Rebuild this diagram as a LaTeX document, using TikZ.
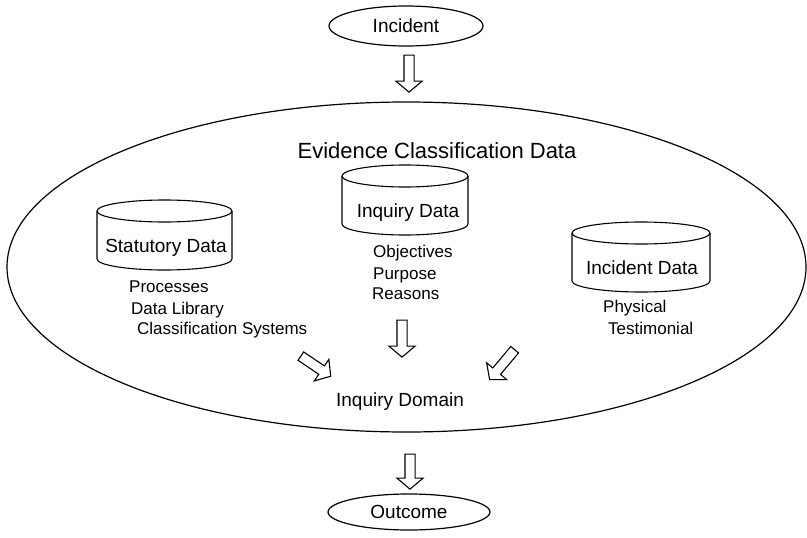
\documentclass[tikz,border=0pt]{standalone}
\usepackage{fontspec}
\setmainfont{Liberation Sans}
\usetikzlibrary{shapes.geometric,shapes.arrows}

\tikzset{
  oval/.style={draw,ellipse,line width=1.2pt,inner sep=0pt},
  store/.style={line width=1.1pt},
  flow/.style={draw,single arrow,line width=1.1pt,inner xsep=0pt,inner ysep=4.5pt,
    single arrow head extend=8pt,single arrow tip angle=100,minimum height=37pt},
  big/.style={font=\fontsize{22}{26}\selectfont},
  lbl/.style={font=\fontsize{19}{22}\selectfont,inner sep=0pt},
  item/.style={font=\fontsize{17}{20}\selectfont,inner sep=0pt,anchor=base west}
}

% drum shaped store: centre x, top y, half width, height
\newcommand{\drum}[4]{%
  \draw[store] (#1,#2+11) ellipse [x radius=#3pt, y radius=11pt];
  \draw[store] (#1-#3,#2+11) -- (#1-#3,#2+#4-11)
    arc [start angle=180, end angle=360, x radius=#3pt, y radius=11pt]
    -- (#1+#3,#2+11);
}

\begin{document}
\begin{tikzpicture}[x=1pt,y=-1pt]
  \useasboundingbox (0,0) rectangle (807,538);

  % start and end
  \node[oval,minimum width=154pt,minimum height=40pt] (incident) at (406,26) {};
  \node[lbl] at (incident.center) {Incident};
  \node[oval,minimum width=162pt,minimum height=36pt] (outcome) at (409,512) {};
  \node[lbl] at (outcome.center) {Outcome};

  % the big evidence area
  \node[oval,minimum width=799pt,minimum height=330pt] (evidence) at (406.5,267) {};
  \node[big,anchor=base] (title) at (437,158) {Evidence Classification Data};

  % data stores
  \drum{164.5}{200}{67.5}{70}
  \node[lbl,anchor=base] (statutory) at (166,252) {Statutory Data};
  \drum{405}{165}{63}{70}
  \node[lbl,anchor=base] (inquiry) at (408,217) {Inquiry Data};
  \drum{641}{222}{69}{70}
  \node[lbl,anchor=base] (incdata) at (642,274) {Incident Data};

  % what each store holds
  \node[item] (proc) at (129,292) {Processes};
  \node[item] (lib) at (131,314) {Data Library};
  \node[item] (csys) at (137,334) {Classification Systems};
  \node[item] (obj) at (373,257) {Objectives};
  \node[item] (purp) at (373,279) {Purpose};
  \node[item] (reas) at (372,299) {Reasons};
  \node[item] (phys) at (603,312) {Physical};
  \node[item] (test) at (608,334) {Testimonial};

  \node[lbl,anchor=base] (domain) at (400,406) {Inquiry Domain};

  % block arrows
  \node[flow,rotate=-90] (a1) at (409,71.5) {};
  \node[flow,rotate=-90] (a2) at (402,336.5) {};
  \node[flow,rotate=-34,minimum height=36pt] (a3) at (314,365) {};
  \node[flow,rotate=-130,minimum height=39pt] (a4) at (503.5,363) {};
  \node[flow,rotate=-90,minimum height=35pt] (a5) at (410,469.5) {};
\end{tikzpicture}
\end{document}
